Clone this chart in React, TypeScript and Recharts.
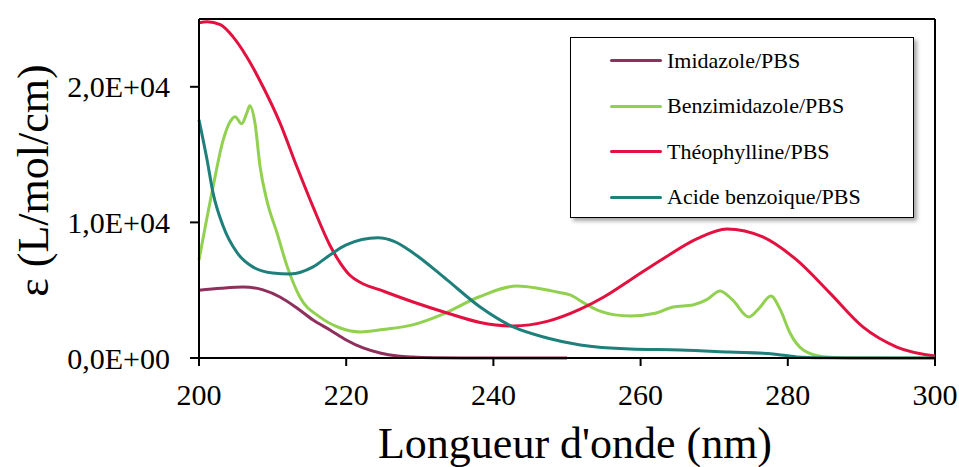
import React from 'react';
import {
  LineChart,
  Line,
  XAxis,
  YAxis,
  ReferenceLine,
} from 'recharts';

// wavelengths (nm) and molar absorptivity values
const imidazoleX = [200, 203, 206, 208.7, 211, 213.3, 215.5, 217.8, 220, 222.3, 224.6, 227, 229, 232, 236, 240, 245, 250];
const imidazoleY = [5000, 5150, 5240, 5020, 4500, 3690, 2800, 2070, 1330, 740, 370, 150, 70, 20, 5, 0, 0, 0];

const benzX = [200, 201.1, 201.9, 203.3, 204.2, 204.9, 205.8, 206.5, 206.9, 207.6, 208.3, 209.2, 210.6, 212, 213.7, 216.4, 219.2, 221.9, 225, 229, 233, 238, 243.2, 246, 248.6, 250.4, 252.5, 254.5, 256.5, 258.6, 262, 264.4, 267.1, 269, 270.8, 272.5, 274.7, 276, 277.7, 279, 280.3, 282.1, 284.8, 288, 295, 300];
const benzY = [7230, 10400, 12600, 16100, 17400, 17800, 17270, 18080, 18600, 17340, 14100, 11660, 9220, 6720, 4500, 3030, 2210, 1920, 2100, 2440, 3200, 4500, 5310, 5150, 4870, 4650, 4000, 3450, 3180, 3100, 3300, 3760, 3910, 4300, 4950, 4280, 3030, 3600, 4580, 3540, 1840, 590, 100, 20, 0, 0];

const theoX = [200, 201.1, 202.9, 204.6, 206.5, 208.7, 211, 213.3, 215.5, 217.8, 219.2, 220.5, 222, 224.6, 229.1, 233.7, 238.2, 242.7, 247.3, 251.8, 255, 259, 263, 267.7, 271.7, 276.6, 281.2, 285.7, 290.2, 294.8, 300];
const theoY = [24720, 24800, 24580, 23700, 22200, 20000, 17340, 14100, 11140, 8300, 7000, 6100, 5550, 5020, 4130, 3320, 2620, 2360, 2700, 3600, 4500, 5900, 7300, 8800, 9520, 8930, 7230, 4800, 2290, 810, 150];

const acideX = [200, 201.1, 201.9, 203.3, 205.2, 207.3, 210, 212.4, 215.5, 217.8, 220, 224.3, 226.5, 229.1, 233.7, 238.2, 242.7, 247.3, 251.8, 258.6, 265.4, 272.1, 278, 281.2, 285, 290, 300];
const acideY = [17560, 14600, 12200, 9700, 7750, 6720, 6270, 6200, 6720, 7600, 8340, 8860, 8600, 7750, 5760, 3760, 2290, 1480, 960, 660, 590, 440, 300, 80, 20, 0, 0];

const xTicks = [200, 220, 240, 260, 280, 300];
const yTicks = [0, 10000, 20000];
const yTickLabels = ['0,0E+00', '1,0E+04', '2,0E+04'];

const toRows = (xs: number[], ys: number[]) => xs.map((x, i) => ({ x, y: ys[i] }));

const series = [
  { name: 'Imidazole/PBS', color: '#8E2F5C', data: toRows(imidazoleX, imidazoleY) },
  { name: 'Benzimidazole/PBS', color: '#92D050', data: toRows(benzX, benzY) },
  { name: 'Théophylline/PBS', color: '#E2113F', data: toRows(theoX, theoY) },
  { name: 'Acide benzoique/PBS', color: '#1E7F7B', data: toRows(acideX, acideY) },
];

const serif = '"Liberation Serif", "Times New Roman", serif';

const LegendBox = () => (
  <div
    style={{
      position: 'absolute',
      left: 570,
      top: 37,
      width: 344,
      height: 181,
      boxSizing: 'border-box',
      border: '1.5px solid #000',
      background: '#fff',
      boxShadow: '3px 3px 4px rgba(0,0,0,0.35)',
    }}
  >
    {series.map((s) => (
      <div key={s.name} style={{ display: 'flex', alignItems: 'center', height: 45.5 }}>
        <div style={{ width: 52, height: 3, borderRadius: 2, background: s.color, marginLeft: 39, marginRight: 5 }} />
        <span style={{ fontFamily: serif, fontSize: 22, color: '#000' }}>{s.name}</span>
      </div>
    ))}
  </div>
);

const YTitle = (props: any) => {
  const { viewBox } = props;
  const cx = viewBox.x + 33;
  const cy = viewBox.y + viewBox.height / 2 - 8;
  return (
    <text
      x={cx}
      y={cy}
      transform={`rotate(-90, ${cx}, ${cy})`}
      textAnchor="middle"
      dominantBaseline="central"
      fontFamily={serif}
      fontSize={44}
      fill="#000"
    >
      ε (L/mol/cm)
    </text>
  );
};

const XTitle = (props: any) => {
  const { viewBox } = props;
  return (
    <text
      x={viewBox.x + viewBox.width / 2 + 8}
      y={viewBox.y + viewBox.height}
      textAnchor="middle"
      fontFamily={serif}
      fontSize={44}
      fill="#000"
    >
      Longueur d'onde (nm)
    </text>
  );
};

export default function App() {
  return (
    <div style={{ position: 'absolute', left: 0, top: 0, width: 959, height: 467, background: '#fff' }}>
      <LineChart width={959} height={467} margin={{ top: 19, right: 24, bottom: 9, left: 0 }}>
        <XAxis
          dataKey="x"
          type="number"
          domain={[200, 300]}
          ticks={xTicks}
          allowDuplicatedCategory={false}
          height={100}
          stroke="#000"
          strokeWidth={2}
          tickSize={8}
          tickMargin={18}
          tick={{ fill: '#000', fontFamily: serif, fontSize: 30 }}
          label={<XTitle />}
        />
        <YAxis
          type="number"
          domain={[0, 25000]}
          ticks={yTicks}
          width={199}
          stroke="#000"
          strokeWidth={2}
          tickSize={9}
          tickMargin={20}
          tick={{ fill: '#000', fontFamily: serif, fontSize: 30 }}
          tickFormatter={(v: number) => yTickLabels[yTicks.indexOf(v)]}
          label={<YTitle />}
        />
        <ReferenceLine y={25000} stroke="#000" strokeWidth={2} />
        <ReferenceLine x={300} stroke="#000" strokeWidth={2} />
        {series.map((s) => (
          <Line
            key={s.name}
            data={s.data}
            dataKey="y"
            name={s.name}
            type="monotone"
            stroke={s.color}
            strokeWidth={3}
            dot={false}
            activeDot={false}
            isAnimationActive={false}
          />
        ))}
      </LineChart>
      <LegendBox />
    </div>
  );
}
